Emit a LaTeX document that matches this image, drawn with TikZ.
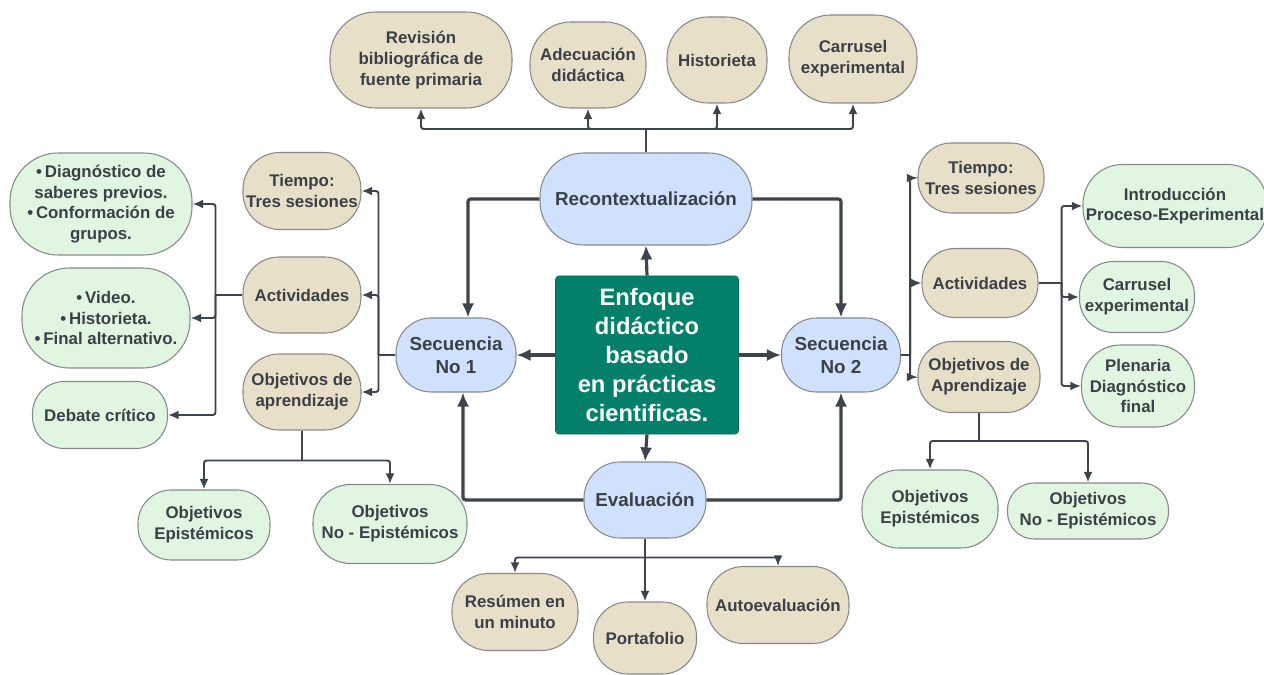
\documentclass[tikz,border=0pt]{standalone}
\usepackage{fontspec}
\setmainfont{Liberation Sans}
\usetikzlibrary{arrows.meta,calc}
\definecolor{tanfill}{HTML}{E8DFC8}
\definecolor{greenfill}{HTML}{E1F6E0}
\definecolor{bluefill}{HTML}{CFE1FC}
\definecolor{corefill}{HTML}{02806A}
\definecolor{inkgray}{HTML}{3A4047}
\definecolor{edgegray}{HTML}{85888C}
\definecolor{linegray}{HTML}{3D444C}
\tikzset{
  raw box/.style={rectangle, draw=edgegray, line width=0.6pt, text=inkgray,
    font=\fontsize{9.6}{11.8}\selectfont\bfseries, align=center, inner sep=1pt},
  dims/.style 2 args={minimum width={#1*0.02cm}, minimum height={#2*0.02cm},
    rounded corners={#2*0.0095cm}},
  tan box/.style={raw box, fill=tanfill},
  green box/.style={raw box, fill=greenfill},
  blue box/.style={raw box, fill=bluefill, font=\fontsize{10.7}{13}\selectfont\bfseries},
  core box/.style={rectangle, rounded corners=2pt, fill=corefill, draw=corefill!85!black,
    text=white, font=\fontsize{13.5}{16.5}\selectfont\bfseries, align=center},
  branch/.style={draw=linegray, line width=1.1pt, rounded corners=1.5pt},
  branch arrow/.style={branch, -{Latex[length=6pt,width=5pt]}},
  main/.style={draw=linegray, line width=1.8pt, rounded corners=1.5pt,
    -{Latex[length=8pt,width=7pt]}}
}

\begin{document}
\begin{tikzpicture}[x=0.02cm, y=-0.02cm]
  \useasboundingbox (0,0) rectangle (1264,675);

  % centre
  \node [core box, minimum width=183*0.02cm, minimum height=158*0.02cm] (core) at (647,355)
    {Enfoque\\didáctico\\basado\\en prácticas\\cientificas.};
  \node [blue box, dims={212}{92}] (rec) at (646,199) {Recontextualización};
  \node [blue box, dims={120}{74}] (s1) at (456,355) {Secuencia\\No 1};
  \node [blue box, dims={119}{74}] (s2) at (841,355) {Secuencia\\No 2};
  \node [blue box, dims={122}{76}] (ev) at (645,500) {Evaluación};

  % top row
  \node [tan box, dims={182}{96}] (rev) at (421,60) {Revisión\\bibliográfica de\\fuente primaria};
  \node [tan box, dims={116}{86}] (adec) at (588,65) {Adecuación\\didáctica};
  \node [tan box, dims={100}{86}] (hist) at (717,60) {Historieta};
  \node [tan box, dims={128}{88}] (carr1) at (853,59) {Carrusel\\experimental};

  % left side
  \node [tan box, dims={118}{77}] (t1) at (302,191) {Tiempo:\\Tres sesiones};
  \node [tan box, dims={118}{76}] (a1) at (302,295) {Actividades};
  \node [tan box, dims={118}{76}] (o1) at (302,392) {Objetivos de\\aprendizaje};
  \node [green box, dims={182}{102}] (diag) at (101,204)
    {•\,Diagnóstico de\\saberes previos.\\•\,Conformación de\\grupos.};
  \node [green box, dims={168}{100}] (vid) at (106,318)
    {•\,Video.\\•\,Historieta.\\•\,Final alternativo.};
  \node [green box, dims={135}{67}] (deb) at (100,415) {Debate crítico};
  \node [green box, dims={132}{70}] (oe1) at (204,525) {Objetivos\\Epistémicos};
  \node [green box, dims={154}{79}] (one1) at (390,524) {Objetivos\\No - Epistémicos};

  % bottom
  \node [tan box, dims={126}{77}] (res) at (515,612) {Resúmen en\\un minuto};
  \node [tan box, dims={103}{72}] (port) at (645,638) {Portafolio};
  \node [tan box, dims={142}{77}] (auto) at (778,605) {Autoevaluación};

  % right side
  \node [tan box, dims={126}{70}] (t2) at (981,178) {Tiempo:\\Tres sesiones};
  \node [tan box, dims={116}{69}] (a2) at (980,283) {Actividades};
  \node [tan box, dims={122}{71}] (o2) at (979,377) {Objetivos de\\Aprendizaje};
  \node [green box, dims={184}{83}] (intro) at (1175,206) {Introducción\\Proceso-Experimental};
  \node [green box, dims={115}{71}] (carr2) at (1137,297) {Carrusel\\experimental};
  \node [green box, dims={113}{82}] (plen) at (1138,386) {Plenaria\\Diagnóstico\\final};
  \node [green box, dims={136}{78}] (oe2) at (930,509) {Objetivos\\Epistémicos};
  \node [green box, dims={161}{56}] (one2) at (1088,511) {Objetivos\\No - Epistémicos};

  % main connectors
  \draw [main] (core.north) -- (rec.south);
  \draw [main] (core.west) -- (s1.east);
  \draw [main] (core.east) -- (s2.west);
  \draw [main] (core.south) -- (ev.north);
  \draw [main] (rec.west) -| ($(s1.north)+(12,0)$);
  \draw [main] (rec.east) -| (s2.north);
  \draw [main] (ev.west) -| ($(s1.south)+(7,0)$);
  \draw [main] (ev.east) -| (s2.south);

  % top bus
  \coordinate (tbus) at (rec.north |- 0,129);
  \draw [branch] (rec.north) -- (tbus);
  \foreach \n in {rev,adec,hist,carr1}
    \draw [branch arrow] (tbus) -| (\n.south);

  % left buses
  \draw [branch] (s1.west) -- ++(-17,0) coordinate (lbus);
  \foreach \n in {t1,a1,o1}
    \draw [branch arrow] (lbus) |- (\n.east);
  \draw [branch] (a1.west) -- ++(-27,0) coordinate (abus);
  \foreach \n in {diag,vid,deb}
    \draw [branch arrow] (abus) |- (\n.east);
  \draw [branch] (o1.south) -- ++(0,30) coordinate (obus);
  \foreach \n in {oe1,one1}
    \draw [branch arrow] (obus) -| (\n.north);

  % bottom bus
  \draw [branch] (ev.south) -- ++(0,19) coordinate (ebus);
  \foreach \n in {res,port,auto}
    \draw [branch arrow] (ebus) -| (\n.north);

  % right buses
  \draw [branch] (s2.east) -- ++(9,0) coordinate (rbus);
  \foreach \n in {t2,a2,o2}
    \draw [branch arrow] (rbus) |- (\n.west);
  \draw [branch] (a2.east) -- ++(23,0) coordinate (a2bus);
  \foreach \n in {intro,carr2,plen}
    \draw [branch arrow] (a2bus) |- (\n.west);
  \draw [branch] (o2.south) -- ++(0,28) coordinate (o2bus);
  \foreach \n in {oe2,one2}
    \draw [branch arrow] (o2bus) -| (\n.north);
\end{tikzpicture}
\end{document}
